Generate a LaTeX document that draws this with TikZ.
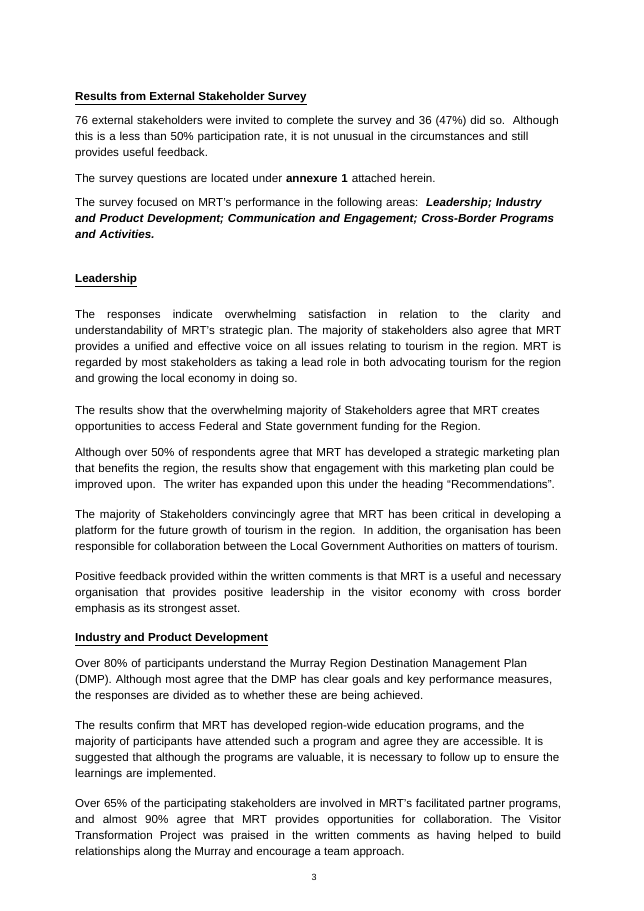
\documentclass[tikz,border=0pt]{standalone}
\usepackage{fontspec}
\setmainfont{Liberation Sans}
\frenchspacing
\begin{document}
\begin{tikzpicture}[x=1pt,y=-1pt,
  para/.style={anchor=north west,inner sep=0pt,text width=486pt,font=\fontsize{11.6}{16}\selectfont},
  jpara/.style={para,align=justify},
  rpara/.style={para,align=left},
  head/.style={anchor=north west,inner sep=0pt,font=\fontsize{11.6}{16}\selectfont\bfseries}]
\useasboundingbox[fill=white] (0,0) rectangle (644,911);
\node[head] (h1) at (75,92) {\underline{Results from External Stakeholder Survey}};
\node[rpara] (p1) at (75,116) {76 external stakeholders were invited to complete the survey and 36 (47\%) did so.\ \ Although\\this is a less than 50\% participation rate, it is not unusual in the circumstances and still\\provides useful feedback.};
\node[rpara] (p2) at (75,174) {The survey questions are located under \textbf{annexure 1} attached herein.};
\node[rpara] (p3) at (75,198) {The survey focused on MRT's performance in the following areas:\ \ \textbf{\textit{Leadership; Industry}}\\\textbf{\textit{and Product Development; Communication and Engagement; Cross-Border Programs}}\\\textbf{\textit{and Activities.}}};
\node[head] (h2) at (75,274) {\underline{Leadership}};
\node[jpara] (p4) at (75,310) {The responses indicate overwhelming satisfaction in relation to the clarity and\linebreak understandability of MRT's strategic plan. The majority of stakeholders also agree that MRT\linebreak provides a unified and effective voice on all issues relating to tourism in the region. MRT is\linebreak regarded by most stakeholders as taking a lead role in both advocating tourism for the region\linebreak and growing the local economy in doing so.};
\node[rpara] (p5) at (75,406) {The results show that the overwhelming majority of Stakeholders agree that MRT creates\\opportunities to access Federal and State government funding for the Region.};
\node[rpara] (p6) at (75,448) {Although over 50\% of respondents agree that MRT has developed a strategic marketing plan\\that benefits the region, the results show that engagement with this marketing plan could be\\improved upon.\ \ The writer has expanded upon this under the heading ``Recommendations''.};
\node[jpara] (p7) at (75,510) {The majority of Stakeholders convincingly agree that MRT has been critical in developing a\linebreak platform for the future growth of tourism in the region.\ \ In addition, the organisation has been\linebreak responsible for collaboration between the Local Government Authorities on matters of tourism.};
\node[jpara] (p8) at (75,572) {Positive feedback provided within the written comments is that MRT is a useful and necessary\linebreak organisation that provides positive leadership in the visitor economy with cross border\linebreak emphasis as its strongest asset.};
\node[head] (h3) at (75,633) {\underline{Industry and Product Development}};
\node[rpara] (p9) at (75,659) {Over 80\% of participants understand the Murray Region Destination Management Plan\\(DMP). Although most agree that the DMP has clear goals and key performance measures,\\the responses are divided as to whether these are being achieved.};
\node[rpara] (p10) at (75,721) {The results confirm that MRT has developed region-wide education programs, and the\\majority of participants have attended such a program and agree they are accessible. It is\\suggested that although the programs are valuable, it is necessary to follow up to ensure the\\learnings are implemented.};
\node[jpara] (p11) at (75,799) {Over 65\% of the participating stakeholders are involved in MRT's facilitated partner programs,\linebreak and almost 90\% agree that MRT provides opportunities for collaboration. The Visitor\linebreak Transformation Project was praised in the written comments as having helped to build\linebreak relationships along the Murray and encourage a team approach.};
\node[inner sep=0pt,font=\fontsize{9}{10}\selectfont] (pg) at (314,877) {3};
\end{tikzpicture}
\end{document}
